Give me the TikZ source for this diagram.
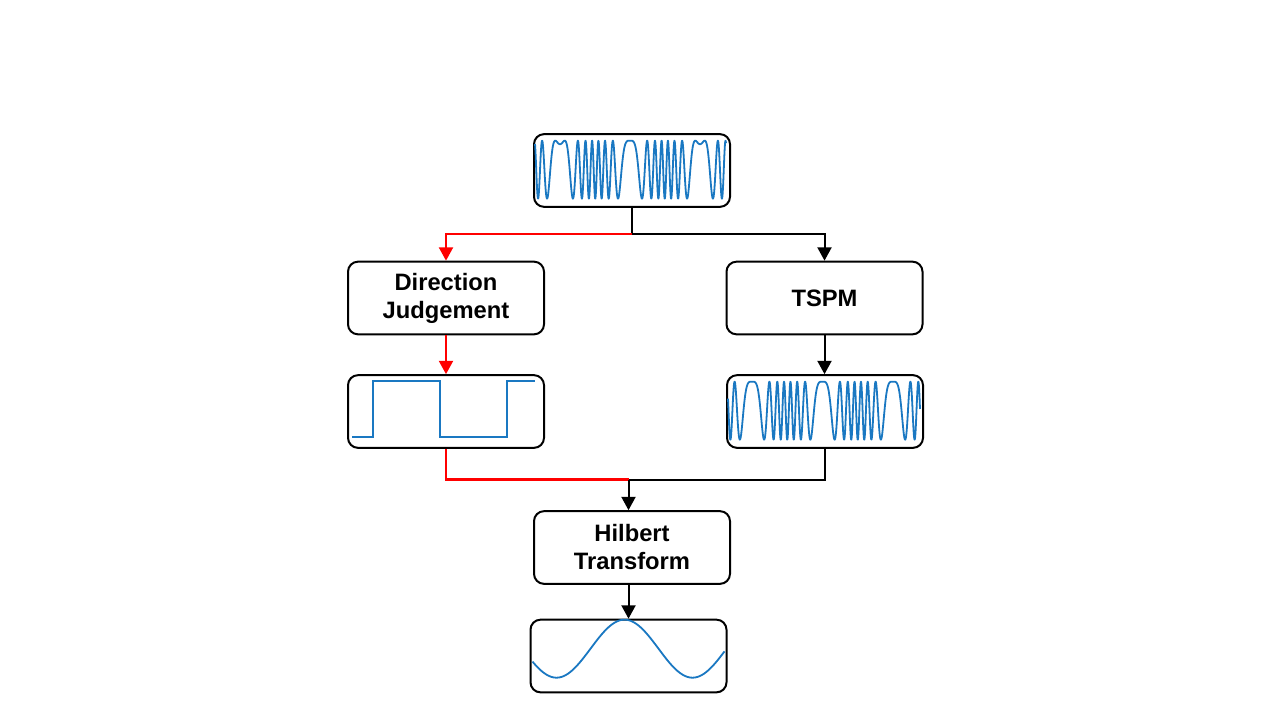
\documentclass[tikz,border=0pt]{standalone}
\usepackage{fontspec}
\setmainfont{Liberation Sans}
\usetikzlibrary{arrows.meta}
\definecolor{sigblue}{HTML}{1A78C2}
\definecolor{linkred}{HTML}{FF0000}
\tikzset{
  box/.style={draw=black, line width=1.5pt, rounded corners=7.5pt, fill=white,
    minimum width=147pt, minimum height=54.5pt, inner sep=0pt, align=center,
    font=\bfseries\fontsize{17.8}{21}\selectfont},
  sig/.style={draw=sigblue, line width=1.35pt, line join=round},
  blk/.style={draw=black, line width=1.5pt},
  rd/.style={draw=linkred, line width=1.6pt},
  tip/.style={-{Triangle[width=10.5pt,length=10pt]}}
}
\begin{document}
\begin{tikzpicture}[x=0.75pt,y=-0.75pt]
\useasboundingbox (0,0) rectangle (1280,720);
% nodes
\node[box] (in)   at (632,170.5) {};
\node[box] (dj)   at (446,298) {Direction\\Judgement};
\node[box] (tspm) at (824.5,298) {TSPM};
\node[box] (sq)   at (446,411.5) {};
\node[box] (ts)   at (825,411.5) {};
\node[box] (hil)  at (632,547.5) {Hilbert\\Transform};
\node[box] (out)  at (628.5,656) {};
% junctions
\coordinate (j1) at (632,234);
\coordinate (j2) at (628.5,479.5);
% input signal
\begin{scope}[shift={(in.north west)}]
  \draw[sig] plot[domain=2:193, samples=900]
    (\x, {36.5 - 29*cos(deg(-(7*pi+0.25)*cos((\x-27)/140*360) - (7*pi+0.25)))});
\end{scope}
% TSPM output
\begin{scope}[shift={(ts.north west)}]
  \draw[sig] plot[domain=2:194, samples=900]
    (\x, {36.5 - 29*cos(deg(-(7*pi)*cos((\x-26)/141*360) - 7*pi))});
\end{scope}
% square wave
\begin{scope}[shift={(sq.north west)}]
  \draw[sig, line join=miter] (5,63) -- (26,63) -- (26,7) -- (93,7) -- (93,63) -- (160,63) -- (160,7) -- (188,7);
\end{scope}
% output sine
\begin{scope}[shift={(out.north west)}]
  \draw[sig] plot[domain=3:195, samples=150]
    (\x, {30 + 29*cos((\x-27)/136*360)});
\end{scope}
% connectors
\draw[blk] (in.south) -- (j1);
\draw[blk, tip] (j1) -| (tspm.north);
\draw[rd, tip] (j1) -| (dj.north);
\draw[rd, tip] (dj.south) -- (sq.north);
\draw[blk, tip] (tspm.south) -- (tspm.south |- ts.north);
\draw[rd] (sq.south) |- (j2);
\draw[blk] (ts.south) |- (j2);
\draw[blk, tip] (j2) -- (j2 |- hil.north);
\draw[blk, tip] (hil.south -| out.north) -- (out.north);
\end{tikzpicture}
\end{document}
